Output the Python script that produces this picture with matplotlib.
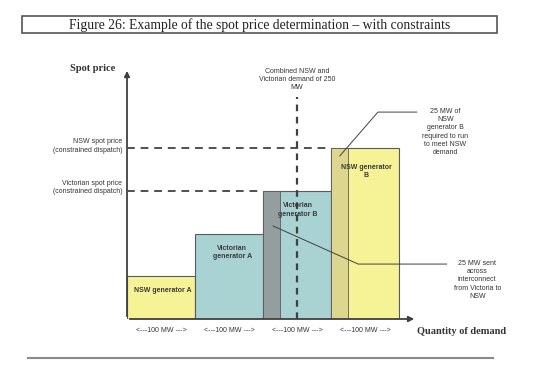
import matplotlib
matplotlib.use("Agg")
import matplotlib.pyplot as plt
from matplotlib.patches import Rectangle
from matplotlib.lines import Line2D

plt.rcParams['font.family'] = ['Liberation Sans', 'DejaVu Sans']

# ------------------------------------------------------------
# Data (MW on x, arbitrary price units on y)
# ------------------------------------------------------------
gen_labels = ["NSW generator A", "Victorian\ngenerator A", "Victorian\ngenerator B", "NSW generator\nB"]
gen_start = [0, 100, 200, 300]
gen_width = [100, 100, 100, 100]
gen_price = [20, 40, 60, 80]
gen_region = ["NSW", "VIC", "VIC", "NSW"]

# 25 MW strips inside Victorian B and NSW B
strip_start = [200, 300]
strip_width = [25, 25]

nsw_price = 80
vic_price = 60
combined_demand = 250
qty_labels = ["<---100 MW --->"] * 4

fill = {"NSW": "#f6f296", "VIC": "#a9d2d2"}
strip_fill = ["#949e9e", "#dcd68e"]
edge = "#5a5a5a"

fig = plt.figure(figsize=(5.38, 3.79), dpi=100)
ax = fig.add_axes([127 / 538, 1 - 319 / 379, 290 / 538, 251 / 379])
ax.set_xlim(0, 290 / 0.68)
ax.set_ylim(0, 251 / 2.1375)
ax.axis('off')

# generator blocks
for x0, w, p, reg in zip(gen_start, gen_width, gen_price, gen_region):
    ax.bar(x0, p, width=w, align='edge', color=fill[reg], edgecolor=edge, linewidth=0.8, zorder=2)

# 25 MW strips
for x0, w, c in zip(strip_start, strip_width, strip_fill):
    top = gen_price[gen_start.index(x0)]
    ax.bar(x0, top, width=w, align='edge', color=c, edgecolor=edge, linewidth=0.6, zorder=3)

# block labels
lab_pos = [(52, 13.5), (155, 31), (251, 51), (352, 69)]
for (lx, ly), lab in zip(lab_pos, gen_labels):
    ax.text(lx, ly, lab, ha='center', va='center', fontsize=5, fontweight='bold', color='#3a3a3a',
            linespacing=1.25, zorder=5)

# spot price dashed lines
ax.plot([0, 300], [nsw_price, nsw_price], color='#505050', lw=1.4, ls=(0, (4, 3)), zorder=4)
ax.plot([0, 200], [vic_price, vic_price], color='#505050', lw=1.4, ls=(0, (4, 3)), zorder=4)

# combined demand line
ax.plot([combined_demand, combined_demand], [0, 104], color='#404040', lw=1.6, ls=(0, (3, 2.5)), zorder=4)
ax.text(combined_demand, 112, "Combined NSW and\nVictorian demand of 250\nMW", ha='center', va='center',
        fontsize=5, color='#333333', linespacing=1.25)

# axes arrows
ax.annotate("", xy=(0, 117.4), xytext=(0, 0),
            arrowprops=dict(arrowstyle='-|>', color='#404040', lw=1.3, mutation_scale=8), annotation_clip=False)
ax.annotate("", xy=(426.5, 0), xytext=(0, 0),
            arrowprops=dict(arrowstyle='-|>', color='#404040', lw=1.3, mutation_scale=8), annotation_clip=False)

ax.text(-50, 117.2, "Spot price", ha='center', va='center', fontsize=7.5, fontweight='bold',
        family='Liberation Serif', color='#333333', clip_on=False)
ax.text(427, -6, "Quantity of demand", ha='left', va='center', fontsize=7.5, fontweight='bold',
        family='Liberation Serif', color='#333333', clip_on=False)

ax.text(-7, 81, "NSW spot price\n(constrained dispatch)", ha='right', va='center', fontsize=5,
        color='#333333', linespacing=1.3, clip_on=False)
ax.text(-7, 61.5, "Victorian spot price\n(constrained dispatch)", ha='right', va='center', fontsize=5,
        color='#333333', linespacing=1.3, clip_on=False)

for x0, w, q in zip(gen_start, gen_width, qty_labels):
    ax.text(x0 + w / 2, -5.2, q, ha='center', va='center', fontsize=5, color='#333333', clip_on=False)

# callout: NSW generator B
ax.plot([313, 369, 426], [76.3, 96.8, 96.8], color='#404040', lw=0.7, clip_on=False, zorder=6)
ax.text(468, 87.5, "25 MW of\nNSW\ngenerator B\nrequired to run\nto meet NSW\ndemand", ha='center',
        va='center', fontsize=5, color='#333333', linespacing=1.25, clip_on=False)

# callout: interconnect flow
ax.plot([215, 340, 470], [43.5, 25.7, 25.7], color='#404040', lw=0.7, clip_on=False, zorder=6)
ax.text(515, 18.3, "25 MW sent\nacross\ninterconnect\nfrom Victoria to\nNSW", ha='center',
        va='center', fontsize=5, color='#333333', linespacing=1.25, clip_on=False)

# title box and bottom rule
fig.patches.append(Rectangle((22 / 538, 1 - 33 / 379), 475 / 538, 17 / 379, transform=fig.transFigure,
                             fill=False, edgecolor='#555555', linewidth=1.2))
fig.text(259.5 / 538, 1 - 25 / 379, "Figure 26: Example of the spot price determination \u2013 with constraints",
         ha='center', va='center', fontsize=9.8, family='Liberation Serif', color='#222222')
fig.lines.append(Line2D([28 / 538, 493 / 538], [1 - 358 / 379, 1 - 358 / 379], transform=fig.transFigure,
                        color='#8a8a8a', linewidth=1.5))

fig.savefig('out.png', dpi=100)
